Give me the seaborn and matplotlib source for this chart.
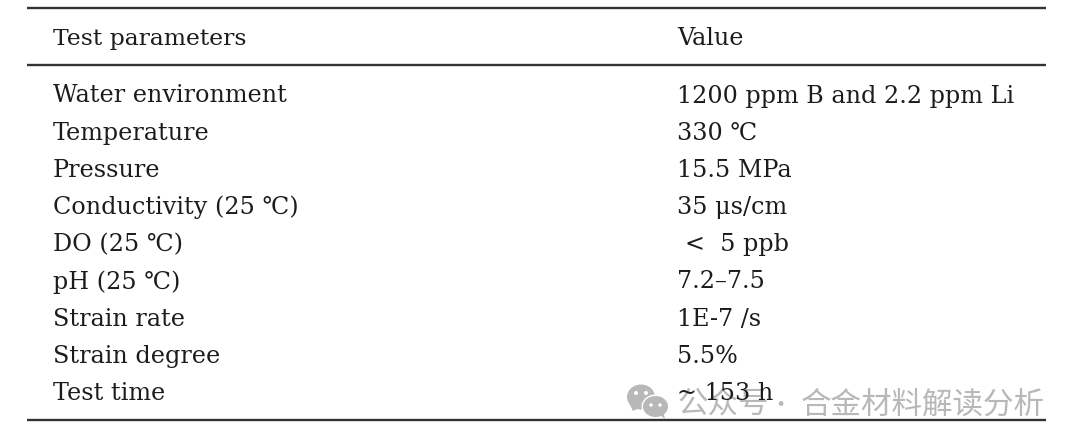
import matplotlib
matplotlib.use("Agg")
import matplotlib.pyplot as plt
from matplotlib.patches import Ellipse, Polygon
import seaborn as sns

sns.set_theme(style="white")
plt.rcParams['font.family'] = ['DejaVu Serif', 'Noto Sans CJK SC', 'DejaVu Sans']

header = ["Test parameters", "Value"]
parameters = ["Water environment", "Temperature", "Pressure", "Conductivity (25 ℃)",
              "DO (25 ℃)", "pH (25 ℃)", "Strain rate", "Strain degree", "Test time"]
values = ["1200 ppm B and 2.2 ppm Li", "330 ℃", "15.5 MPa", "35 μs/cm",
          "<  5 ppb", "7.2–7.5", "1E-7 /s", "5.5%", "~ 153 h"]
watermark_left = "公众号"
watermark_dot = "·"
watermark_right = "合金材料解读分析"

W, H = 1080, 446
fig = plt.figure(figsize=(W/100, H/100), dpi=100, facecolor="white")
ax = fig.add_axes([0, 0, 1, 1])
ax.set_xlim(0, W); ax.set_ylim(H, 0); ax.axis("off")
fs = 17.2
col = "#1c1c1c"
ax.text(53, 45, header[0], fontsize=fs - 0.3, va="baseline", color=col)
ax.text(677, 45, header[1], fontsize=fs, va="baseline", color=col)
for i, (p, v) in enumerate(zip(parameters, values)):
    y = 102.5 + i * 37.2
    ax.text(53, y, p, fontsize=fs, va="baseline", color=col, zorder=8)
    ax.text(677 + (8 if v.startswith("<") else 0), y, v, fontsize=fs, va="baseline", color=col, zorder=8)
ax.hlines([8, 65, 419.5], 27, 1046, color="#333333", lw=1.7, zorder=9)
# watermark
gray = "#b8b8b8"
ax.add_patch(Ellipse((641, 397), 28, 25, color=gray, lw=0, zorder=5))
ax.add_patch(Polygon([(629, 403), (633, 411), (641, 407)], color=gray, lw=0, zorder=5))
ax.add_patch(Ellipse((655.5, 406.5), 28, 24, color="white", lw=0, zorder=5))
ax.add_patch(Ellipse((655.5, 406.5), 25, 21, color=gray, lw=0, zorder=6))
ax.add_patch(Polygon([(659, 414), (665, 419), (663, 411)], color=gray, lw=0, zorder=6))
for cx, cy, d in [(636, 393, 4), (646, 393, 4), (651, 405, 3.5), (660, 405, 3.5)]:
    ax.add_patch(Ellipse((cx, cy), d, d, color="white", lw=0, zorder=7))
wm_font = ['Noto Sans CJK SC', 'DejaVu Sans']
ax.text(677, 405, watermark_left, fontsize=22, va="center", ha="left", color=gray, family=wm_font, zorder=7)
ax.text(780, 405, watermark_dot, fontsize=16, va="center", ha="center", color=gray, family=wm_font, zorder=7)
ax.text(1045, 405, watermark_right, fontsize=22, va="center", ha="right", color=gray, family=wm_font, zorder=7)
fig.savefig("out.png", dpi=100)
